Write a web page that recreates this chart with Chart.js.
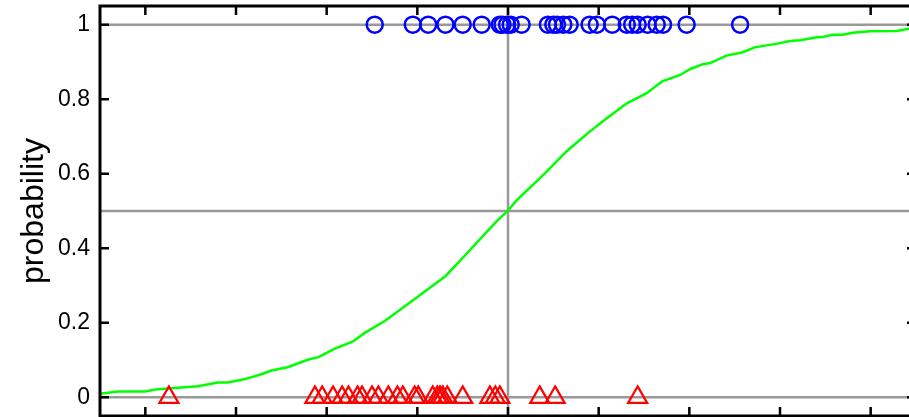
<!DOCTYPE html>
<html>
<head>
<meta charset="utf-8">
<script src="https://cdn.jsdelivr.net/npm/chart.js@4.4.1/dist/chart.umd.min.js"></script>
<style>
  html, body { margin: 0; padding: 0; background: #fff; overflow: hidden; }
  #wrap { width: 917px; height: 417px; }
</style>
</head>
<body>
<div id="wrap"><canvas id="chart" width="917" height="417"></canvas></div>
<script>
// fitted probability curve
const curveX = [-4.5, -4.3, -4.0, -3.89, -3.64, -3.42, -3.2, -3.09, -2.9, -2.72, -2.61, -2.43, -2.21, -2.09, -1.91, -1.71, -1.58, -1.36, -1.1, -0.85, -0.69, -0.47, -0.25, -0.11, 0.0,
  0.1, 0.39, 0.65, 0.9, 1.09, 1.31, 1.53, 1.7, 1.9, 2.01, 2.15, 2.23, 2.41, 2.59, 2.72, 2.97, 3.11, 3.22, 3.41, 3.47, 3.58, 3.69, 3.8, 3.99, 4.29, 4.42, 4.5];
const curveP = [0.010, 0.016, 0.016, 0.021, 0.026, 0.030, 0.040, 0.040, 0.049, 0.062, 0.072, 0.081, 0.101, 0.108, 0.131, 0.150, 0.173, 0.205, 0.251, 0.296, 0.325, 0.382, 0.44, 0.476, 0.501,
  0.53, 0.597, 0.661, 0.713, 0.749, 0.789, 0.816, 0.848, 0.865, 0.881, 0.894, 0.897, 0.917, 0.926, 0.939, 0.949, 0.956, 0.958, 0.966, 0.967, 0.973, 0.973, 0.978, 0.982, 0.983, 0.989, 0.990];

// observations with outcome 1 (circles) and 0 (triangles)
const positiveX = [-1.47, -1.05, -0.88, -0.69, -0.50, -0.29, -0.09, -0.06, -0.01, 0.03, 0.15, 0.44, 0.50, 0.54, 0.61, 0.68,
  0.90, 0.98, 1.15, 1.31, 1.37, 1.43, 1.54, 1.64, 1.71, 1.97, 2.56];
const negativeX = [-3.74, -2.13, -2.05, -1.93, -1.83, -1.76, -1.66, -1.61, -1.50, -1.43, -1.32, -1.22, -1.16, -1.03, -0.99,
  -0.83, -0.78, -0.75, -0.72, -0.67, -0.50, -0.20, -0.14, -0.09, 0.35, 0.52, 1.43];

const xTicks = [-4, -3, -2, -1, 0, 1, 2, 3, 4];
const yTicks = [0, 0.2, 0.4, 0.6, 0.8, 1];
const xRange = [-4.5, 4.5];
const yRange = [-0.05, 1.05];
const hLines = [0, 0.5, 1];
const vLines = [0];

const gray = '#999999';

const refSets = [];
hLines.forEach(v => refSets.push({
  data: [{ x: xRange[0], y: v }, { x: xRange[1], y: v }],
  showLine: true, borderColor: gray, borderWidth: 2.5, pointRadius: 0, order: 5
}));
vLines.forEach(v => refSets.push({
  data: [{ x: v, y: yRange[0] }, { x: v, y: yRange[1] }],
  showLine: true, borderColor: gray, borderWidth: 2.5, pointRadius: 0, order: 5
}));

// frame with inward tick marks
const framePlugin = {
  id: 'frame',
  afterDraw(chart) {
    const { ctx, chartArea: a, scales } = chart;
    ctx.save();
    ctx.strokeStyle = '#000';
    ctx.lineWidth = 2.5;
    const len = 9;
    ctx.beginPath();
    xTicks.forEach(v => {
      const px = scales.x.getPixelForValue(v);
      ctx.moveTo(px, a.bottom); ctx.lineTo(px, a.bottom - len);
      ctx.moveTo(px, a.top); ctx.lineTo(px, a.top + len);
    });
    yTicks.forEach(v => {
      const py = scales.y.getPixelForValue(v);
      ctx.moveTo(a.left, py); ctx.lineTo(a.left + len, py);
      ctx.moveTo(a.right, py); ctx.lineTo(a.right - len, py);
    });
    ctx.stroke();
    ctx.lineWidth = 3;
    ctx.strokeRect(a.left, a.top, a.right - a.left, a.bottom - a.top);
    ctx.restore();
  }
};

new Chart(document.getElementById('chart'), {
  type: 'scatter',
  data: {
    datasets: [
      ...refSets,
      {
        data: curveX.map((x, i) => ({ x: x, y: curveP[i] })),
        showLine: true, borderColor: '#00ff00', borderWidth: 2.5, pointRadius: 0, order: 3
      },
      {
        data: negativeX.map(x => ({ x: x, y: 0 })),
        pointStyle: 'triangle', pointRadius: 11, borderColor: '#ff0000', backgroundColor: 'rgba(0,0,0,0)',
        borderWidth: 2.2, order: 1
      },
      {
        data: positiveX.map(x => ({ x: x, y: 1 })),
        pointStyle: 'circle', pointRadius: 8, borderColor: '#0000ff', backgroundColor: 'rgba(0,0,0,0)',
        borderWidth: 2.5, order: 0
      }
    ]
  },
  options: {
    responsive: false,
    animation: false,
    events: [],
    layout: { autoPadding: false, padding: { top: 6, bottom: 1, left: 0, right: 1 } },
    plugins: { legend: { display: false }, tooltip: { enabled: false } },
    scales: {
      x: {
        type: 'linear', display: false, min: xRange[0], max: xRange[1]
      },
      y: {
        type: 'linear', min: yRange[0], max: yRange[1],
        afterBuildTicks: s => { s.ticks = yTicks.map(v => ({ value: v })); },
        afterFit: s => { s.width = 100; s.paddingTop = 0; s.paddingBottom = 0; },
        border: { display: false },
        grid: { display: false, drawTicks: false },
        ticks: {
          padding: 10, color: '#000',
          font: { family: 'Liberation Sans, Arial, sans-serif', size: 23 },
          callback: v => String(Math.round(v * 10) / 10)
        },
        title: {
          display: true, text: 'probability', color: '#000',
          font: { family: 'Liberation Sans, Arial, sans-serif', size: 32 },
          padding: { top: 15, bottom: 0 }
        }
      }
    }
  },
  plugins: [framePlugin]
});
</script>
</body>
</html>
